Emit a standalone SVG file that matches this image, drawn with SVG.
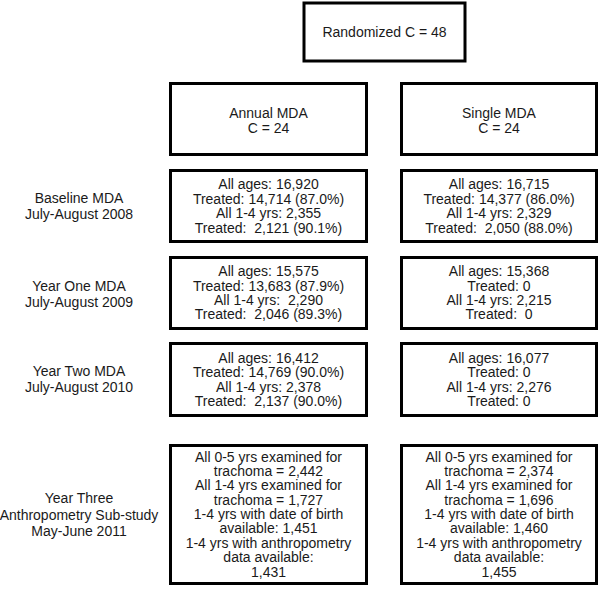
<svg xmlns="http://www.w3.org/2000/svg" width="600" height="589" viewBox="0 0 600 589">
<style>
.box{fill:#fff;stroke:#000;stroke-width:3}
text{font-family:"Liberation Sans",Arial,sans-serif;font-size:14px;fill:#1a1a1a;text-anchor:middle}
</style>
<rect width="600" height="589" fill="#fff"/>
<g id="connectors"></g>
<g id="randomized">
<rect class="box" x="304" y="3" width="161" height="58"/>
<text x="384.5" y="37">Randomized C = 48</text>
</g>
<g id="annual">
<rect class="box" x="170.5" y="83.5" width="196" height="71"/>
<text x="268.5" y="118">Annual MDA</text>
<text x="268.5" y="133">C = 24</text>
</g>
<g id="single">
<rect class="box" x="401.5" y="83.5" width="195" height="71"/>
<text x="499" y="118">Single MDA</text>
<text x="499" y="133">C = 24</text>
</g>
<g id="label-baseline">
<text x="79" y="203">Baseline MDA</text>
<text x="79" y="219">July-August 2008</text>
</g>
<g id="label-year1">
<text x="79" y="291">Year One MDA</text>
<text x="79" y="307">July-August 2009</text>
</g>
<g id="label-year2">
<text x="79" y="376">Year Two MDA</text>
<text x="79" y="392">July-August 2010</text>
</g>
<g id="label-year3">
<text x="79" y="503">Year Three</text>
<text x="79" y="520">Anthropometry Sub-study</text>
<text x="79" y="536">May-June 2011</text>
</g>
<g id="annual-baseline">
<rect class="box" x="170.5" y="170.5" width="196" height="71"/>
<text x="268.5" y="189">All ages: 16,920</text>
<text x="268.5" y="204">Treated: 14,714 (87.0%)</text>
<text x="268.5" y="218">All 1-4 yrs: 2,355</text>
<text x="268.5" y="233" xml:space="preserve">Treated:  2,121 (90.1%)</text>
</g>
<g id="single-baseline">
<rect class="box" x="401.5" y="170.5" width="195" height="71"/>
<text x="499" y="189">All ages: 16,715</text>
<text x="499" y="204">Treated: 14,377 (86.0%)</text>
<text x="499" y="218">All 1-4 yrs: 2,329</text>
<text x="499" y="233" xml:space="preserve">Treated:  2,050 (88.0%)</text>
</g>
<g id="annual-year1">
<rect class="box" x="170.5" y="257.5" width="196" height="71"/>
<text x="268.5" y="276">All ages: 15,575</text>
<text x="268.5" y="291">Treated: 13,683 (87.9%)</text>
<text x="268.5" y="305" xml:space="preserve">All 1-4 yrs:  2,290</text>
<text x="268.5" y="319" xml:space="preserve">Treated:  2,046 (89.3%)</text>
</g>
<g id="single-year1">
<rect class="box" x="401.5" y="257.5" width="195" height="71"/>
<text x="499" y="276">All ages: 15,368</text>
<text x="499" y="291">Treated: 0</text>
<text x="499" y="305">All 1-4 yrs: 2,215</text>
<text x="499" y="319" xml:space="preserve">Treated:  0</text>
</g>
<g id="annual-year2">
<rect class="box" x="170.5" y="343.5" width="196" height="72"/>
<text x="268.5" y="363">All ages: 16,412</text>
<text x="268.5" y="377">Treated: 14,769 (90.0%)</text>
<text x="268.5" y="392">All 1-4 yrs: 2,378</text>
<text x="268.5" y="406" xml:space="preserve">Treated:  2,137 (90.0%)</text>
</g>
<g id="single-year2">
<rect class="box" x="401.5" y="343.5" width="195" height="72"/>
<text x="499" y="363">All ages: 16,077</text>
<text x="499" y="377">Treated: 0</text>
<text x="499" y="392">All 1-4 yrs: 2,276</text>
<text x="499" y="406">Treated: 0</text>
</g>
<g id="annual-year3">
<rect class="box" x="170.5" y="445.5" width="196" height="138"/>
<text x="268.5" y="462">All 0-5 yrs examined for</text>
<text x="268.5" y="476">trachoma = 2,442</text>
<text x="268.5" y="490">All 1-4 yrs examined for</text>
<text x="268.5" y="505">trachoma = 1,727</text>
<text x="268.5" y="519">1-4 yrs with date of birth</text>
<text x="268.5" y="533">available: 1,451</text>
<text x="268.5" y="548">1-4 yrs with anthropometry</text>
<text x="268.5" y="562">data available:</text>
<text x="268.5" y="577">1,431</text>
</g>
<g id="single-year3">
<rect class="box" x="401.5" y="445.5" width="195" height="138"/>
<text x="499" y="462">All 0-5 yrs examined for</text>
<text x="499" y="476">trachoma = 2,374</text>
<text x="499" y="490">All 1-4 yrs examined for</text>
<text x="499" y="505">trachoma = 1,696</text>
<text x="499" y="519">1-4 yrs with date of birth</text>
<text x="499" y="533">available: 1,460</text>
<text x="499" y="548">1-4 yrs with anthropometry</text>
<text x="499" y="562">data available:</text>
<text x="499" y="577">1,455</text>
</g>
</svg>
